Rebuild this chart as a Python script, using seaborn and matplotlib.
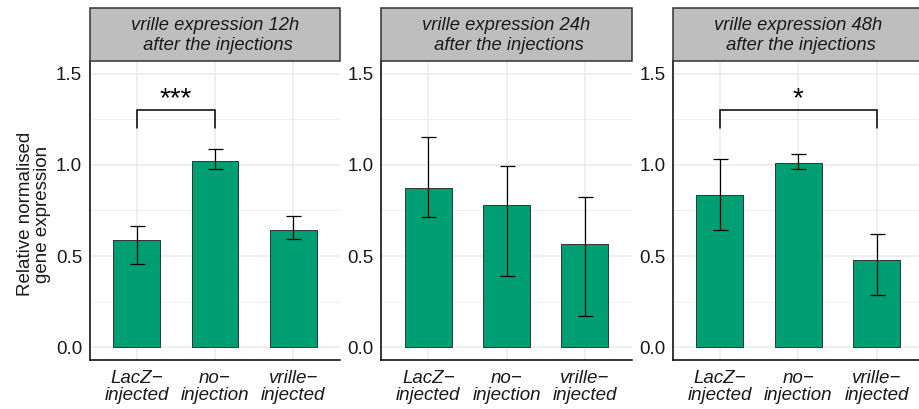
import matplotlib
matplotlib.use("Agg")
import matplotlib.pyplot as plt
from matplotlib.patches import Rectangle
import numpy as np
import pandas as pd
import seaborn as sns

sns.set_theme(style="white")
plt.rcParams["font.family"] = ["Liberation Sans", "DejaVu Sans"]

# Mean relative expression and error-bar limits per group and time point
groups = ["LacZ\u2212\ninjected", "no\u2212\ninjection", "vrille\u2212\ninjected"]
timepoints = ["12h", "24h", "48h"]

expr_12h = [0.588, 1.021, 0.641]
lower_12h = [0.455, 0.979, 0.592]
upper_12h = [0.667, 1.089, 0.718]

expr_24h = [0.872, 0.778, 0.566]
lower_24h = [0.716, 0.391, 0.172]
upper_24h = [1.155, 0.996, 0.822]

expr_48h = [0.837, 1.009, 0.477]
lower_48h = [0.641, 0.976, 0.285]
upper_48h = [1.032, 1.058, 0.623]

# Significance brackets: (time point, first group index, second group index, label)
signif = [("12h", 0, 1, "***"), ("48h", 0, 2, "*")]
bracket_low, bracket_high = 1.2, 1.3

frames = []
for tp, e, lo, hi in zip(timepoints,
                         [expr_12h, expr_24h, expr_48h],
                         [lower_12h, lower_24h, lower_48h],
                         [upper_12h, upper_24h, upper_48h]):
    frames.append(pd.DataFrame({"time": tp, "group": groups,
                                "expression": e, "lower": lo, "upper": hi}))
df = pd.concat(frames, ignore_index=True)

W, H = 920, 409
fig = plt.figure(figsize=(W / 100, H / 100), dpi=100)

panel_left = [89.7, 381.3, 673.0]
panel_w = 250.6
panel_top, panel_bottom = 61.0, 360.0
strip_top = 8.0

bar_color = "#009E73"
text_color = "#1a1a1a"
fs = 13.5

for i, tp in enumerate(timepoints):
    ax = fig.add_axes([panel_left[i] / W, 1 - panel_bottom / H,
                       panel_w / W, (panel_bottom - panel_top) / H])
    sub = df[df["time"] == tp]
    sns.barplot(data=sub, x="group", y="expression", order=groups,
                color=bar_color, saturation=1, width=0.6, errorbar=None,
                edgecolor="#333333", linewidth=0.7, ax=ax, zorder=3)
    xs = np.arange(len(groups))
    means = sub["expression"].to_numpy()
    yerr = np.vstack([means - sub["lower"].to_numpy(),
                      sub["upper"].to_numpy() - means])
    ax.errorbar(xs, means, yerr=yerr, fmt="none", ecolor="black",
                elinewidth=0.9, capsize=5.4, capthick=0.9, zorder=4)

    ax.set_xlim(-0.6, 2.6)
    ax.set_ylim(-0.07, 1.57)
    ax.set_yticks([0, 0.5, 1.0, 1.5])
    ax.set_yticklabels(["0.0", "0.5", "1.0", "1.5"])
    ax.set_yticks([0.25, 0.75, 1.25], minor=True)
    ax.grid(True, which="major", color="#EBEBEB", linewidth=1.1, zorder=0)
    ax.grid(True, which="minor", axis="y", color="#EBEBEB", linewidth=0.55, zorder=0)
    ax.set_axisbelow(True)
    ax.set_xlabel("")
    ax.set_ylabel("")
    ax.tick_params(axis="both", length=0, labelsize=fs, colors=text_color)
    ax.tick_params(axis="y", pad=5.5)
    ax.tick_params(axis="x", pad=7)
    for lab in ax.get_xticklabels():
        lab.set_fontstyle("italic")
        lab.set_linespacing(1.02)
    for side in ["top", "right"]:
        ax.spines[side].set_visible(False)
    for side in ["left", "bottom"]:
        ax.spines[side].set_color("black")
        ax.spines[side].set_linewidth(1.1)

    # Facet strip above the panel
    span = panel_bottom - panel_top
    strip_h = (panel_top - strip_top) / span
    ax.add_patch(Rectangle((0, 1), 1, strip_h, transform=ax.transAxes,
                           facecolor="#BEBEBE", edgecolor="#333333",
                           linewidth=1.1, clip_on=False, zorder=5))
    ax.text(0.5, 1 + (panel_top - 35.5) / span,
            f"vrille expression {tp}\n after the injections",
            transform=ax.transAxes, ha="center", va="center",
            fontsize=13.2, fontstyle="italic", color=text_color,
            linespacing=1.25, zorder=6)

    for s_tp, a, b, label in signif:
        if s_tp != tp:
            continue
        ax.plot([a, a, b, b], [bracket_low, bracket_high, bracket_high, bracket_low],
                color="black", linewidth=1.1, zorder=4, solid_joinstyle="miter")
        ax.text((a + b) / 2, bracket_high + 0.06, label, ha="center",
                va="center", fontsize=20, color="black", zorder=4)

fig.text(34 / W, 1 - 214 / H, "Relative normalised\ngene expression",
         rotation=90, ha="center", va="center", fontsize=fs,
         color=text_color, linespacing=0.95)

fig.savefig("out.png", dpi=100)
